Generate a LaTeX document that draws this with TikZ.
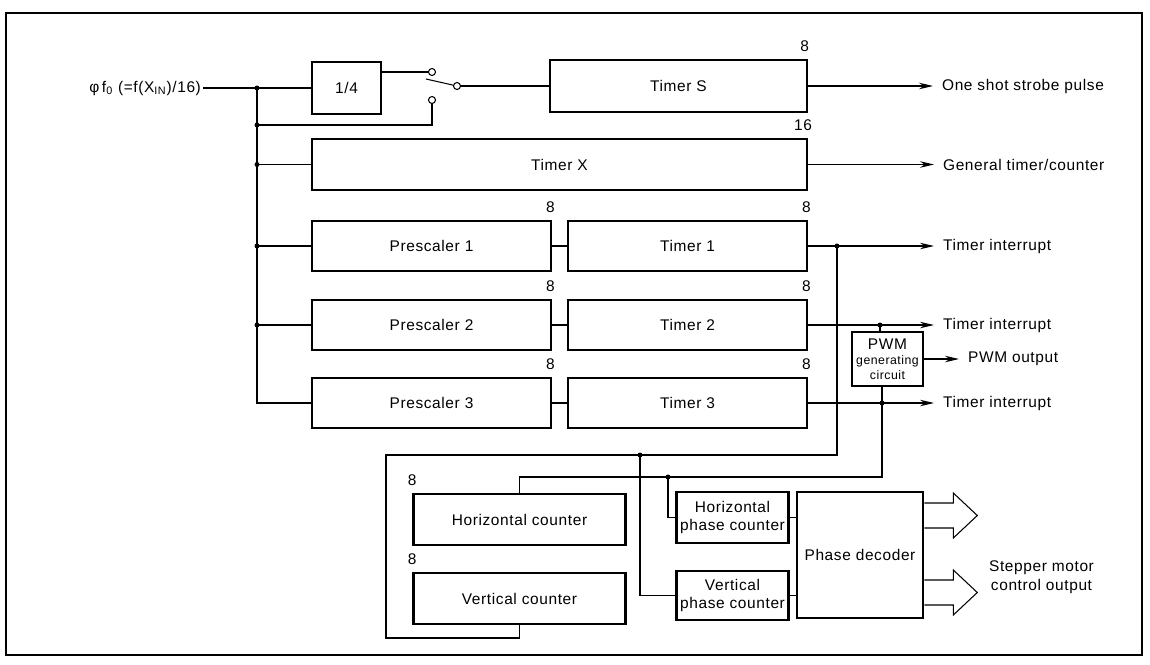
\documentclass[tikz,border=0pt]{standalone}
\usepackage{fontspec}
\setmainfont{Liberation Sans}[LetterSpace=4]
\usepackage{tikz}
\usetikzlibrary{positioning,arrows.meta,calc}

\begin{document}
\begin{tikzpicture}[x=0.02cm,y=-0.02cm,font=\fontsize{8.8}{10.8}\selectfont,
  blk/.style={rectangle,draw,line width=1.5pt,inner sep=1pt,align=center},
  num/.style={inner sep=0pt,anchor=south,yshift=4pt},
  lbl/.style={inner sep=1pt,anchor=west,align=center},
  ln/.style={line width=0.6pt},
  ar/.style={line width=0.6pt,-{Stealth[length=2.8mm,width=1.3mm]},shorten >=4pt},
  dot/.style={circle,fill,inner sep=0pt,minimum size=1mm},
  term/.style={circle,draw,line width=0.6pt,fill=white,inner sep=0pt,minimum size=1.4mm}]
\useasboundingbox (0,0) rectangle (1150,664);
\draw[line width=1.1pt] (6,13) rectangle (1142,655);
% clock input, divider and selector switch
\node[lbl,anchor=east] (clk) at (203,88) {φ\,f\textsubscript{0} (=f(X\textsubscript{IN})/16)};
\node[blk,minimum width=1.38cm,minimum height=1.04cm] (div) at (346.5,88) {1/4};
\node[term] (swa) at (432,72) {};
\node[term] (swb) at (432,100) {};
\node[term] (swp) at (457,86) {};
\coordinate (blade) at (426,79);
\node[blk,minimum width=5.14cm,minimum height=1.04cm] (timS) at (678.5,86) {Timer S};
\node[num,xshift=-2pt] at (timS.north east) {8};
\node[blk,minimum width=9.9cm,minimum height=1.02cm] (timX) at (559.5,164.5) {Timer X};
\node[num,xshift=-3pt] at (timX.north east) {16};
% prescalers and 8-bit timers
\foreach \i/\y in {1/246,2/325,3/403}{
  \node[blk,minimum width=4.78cm,minimum height=1cm] (pre\i) at (431.5,\y) {Prescaler \i};
  \node[blk,minimum width=4.78cm,minimum height=1cm] (tim\i) at (687.5,\y) {Timer \i};
  \node[num,xshift=-1pt] at (pre\i.north east) {8};
  \node[num,xshift=-1pt] at (tim\i.north east) {8};
  \node[lbl] (int\i) at (941,\y) {Timer interrupt};
  \draw[ln] (pre\i) -- (tim\i);
}
\node[blk,minimum width=1.42cm,minimum height=1.08cm,inner sep=0pt,font=\fontsize{7}{8.5}\selectfont] (pwm) at (887.5,359) {{\fontsize{8.8}{8.5}\selectfont PWM}\\generating\\circuit};
% counters and phase decoder
\node[blk,minimum width=4.24cm,minimum height=1.02cm] (hcnt) at (519.5,519.5) {Horizontal counter};
\node[blk,minimum width=4.24cm,minimum height=1.02cm] (vcnt) at (519.5,598.5) {Vertical counter};
\node[num] at (hcnt.north west) {8};
\node[num] at (vcnt.north west) {8};
\node[blk,minimum width=2.24cm,minimum height=1.02cm] (hpc) at (732.5,517.5) {Horizontal\\phase counter};
\node[blk,minimum width=2.24cm,minimum height=0.98cm] (vpc) at (732.5,595.5) {Vertical\\phase counter};
\node[blk,minimum width=2.52cm,minimum height=2.52cm] (dec) at (860,555) {Phase decoder};
% outputs
\node[lbl] (oS) at (940,86) {One shot strobe pulse};
\node[lbl] (oX) at (941,164.5) {General timer/counter};
\node[lbl] (opwm) at (966,359) {PWM output};
\node[lbl] (smo) at (987,577) {Stepper motor\\control output};
% clock distribution
\coordinate (j0) at (257,88);
\coordinate (j1) at (257,125);
\draw[ln] (clk.east) -- (div.west);
\draw[ln] (j0) |- (pre3.west);
\draw[ln] (j1) -| (swb.south);
\foreach \p in {timX,pre1,pre2} \draw[ln] (j0 |- \p.west) -- (\p.west);
\foreach \p in {j0,j1} \node[dot] at (\p) {};
\foreach \p in {timX,pre1,pre2} \node[dot] at (j0 |- \p.west) {};
\draw[ln] (div.east |- swa) -- (swa);
\draw[ln] (blade) -- (swp);
\draw[ln] (swp) -- (timS.west);
\draw[ar] (timS.east) -- (oS.west);
\draw[ar] (timX.east) -- (oX.west);
% timer outputs, PWM and stepper routing
\coordinate (k1) at (837,246);
\coordinate (k2) at (880,325);
\coordinate (k3) at (882,403);
\coordinate (q1) at (640,455);
\coordinate (q2) at (668,477);
\coordinate (lp) at (386,638);
\foreach \i in {1,2,3} \draw[ar] (tim\i.east) -- (int\i.west);
\draw[ln] (k2) -- (k2 |- pwm.north);
\draw[ar] (pwm.east) -- (opwm.west);
\draw[ln] (k3 |- pwm.south) -- (k3 |- q2) -| (hcnt.north);
\draw[ln] (k1) -- (k1 |- q1) -| (lp) -| (vcnt.south);
\draw[ln] (q1) |- (vpc.west);
\draw[ln] (q2) |- (hpc.west);
\draw[ln] (hpc.east) -- (hpc.east -| dec.west);
\draw[ln] (vpc.east) -- (vpc.east -| dec.west);
\foreach \p in {k1,k2,k3,q1,q2} \node[dot] at (\p) {};
% stepper motor outputs
\foreach \dy in {-52,25}
  \draw[ln] ($(dec.east)+(0,\dy)$) -- ++(29,0) -- ++(0,-10) -- ++(24,22.5) -- ++(-24,22.5) -- ++(0,-10) -- ++(-29,0);
\end{tikzpicture}
\end{document}
